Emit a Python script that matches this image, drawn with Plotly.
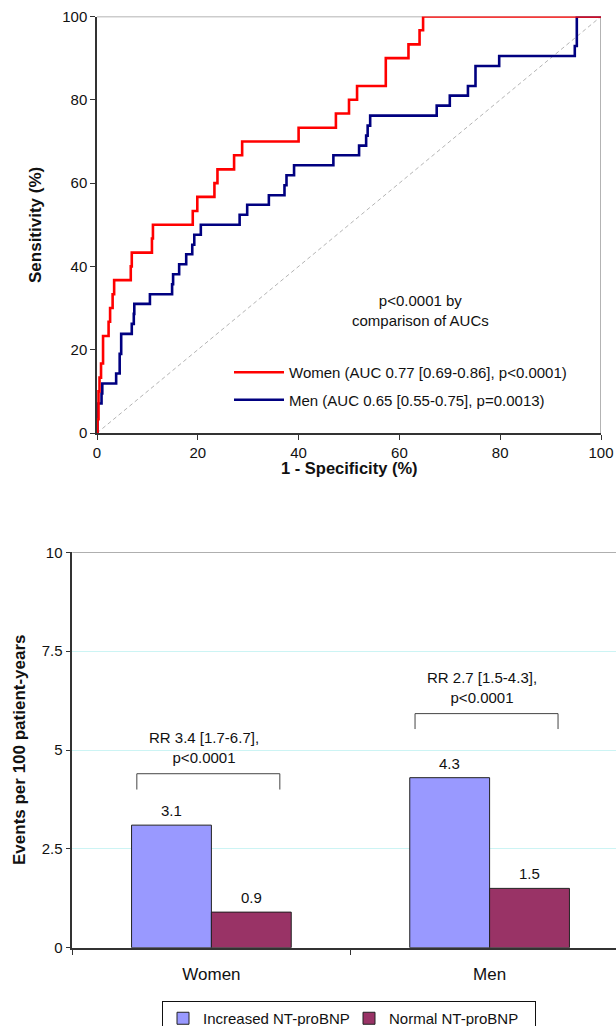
import plotly.graph_objects as go

# ROC staircase vertices: (1 - specificity, sensitivity) in %, after each rise
women_fpr = [0, 0.1, 0.3, 0.5, 0.8, 1.2, 2.3, 2.6, 3.1, 3.4, 6.7, 6.9, 10.9, 11.1,
             19.0, 19.9, 23.3, 23.9, 27.2, 28.8, 40.0, 47.4, 50.0, 51.6, 57.3,
             61.8, 64.0, 64.7, 100]
women_tpr = [0, 3.3, 10.0, 13.3, 16.7, 23.3, 26.7, 30.0, 33.3, 36.7, 40.0, 43.3, 46.7, 50.0,
             53.3, 56.7, 60.0, 63.3, 66.7, 70.0, 73.3, 76.7, 80.0, 83.3, 90.0,
             93.3, 96.7, 100, 100]

men_fpr = [0, 0.1, 0.9, 1.05, 3.8, 4.5, 4.8, 6.9, 7.3, 7.4, 10.5, 14.9, 15.1, 16.3,
           17.7, 18.9, 19.3, 20.6, 28.3, 29.8, 34.1, 37.2, 37.6, 39.1, 46.9, 52.0,
           53.4, 53.7, 54.2, 67.4, 70.0, 73.6, 75.1, 79.8, 94.8, 95.2, 100]
men_tpr = [0, 7.1, 9.5, 11.9, 14.3, 19.0, 23.8, 26.2, 28.6, 31.0, 33.3, 35.7, 38.1, 40.5,
           42.9, 45.2, 47.6, 50.0, 52.4, 54.8, 57.1, 59.5, 61.9, 64.3, 66.7, 69.0,
           71.4, 73.8, 76.2, 78.6, 81.0, 83.3, 88.1, 90.5, 92.9, 100, 100]

roc_ticks = [0, 20, 40, 60, 80, 100]

# Event rates per 100 patient-years
groups = ["Women", "Men"]
increased = [3.1, 4.3]
normal = [0.9, 1.5]
rr_labels = ["RR 3.4 [1.7-6.7],<br>p&lt;0.0001", "RR 2.7 [1.5-4.3],<br>p&lt;0.0001"]
rate_ticks = [0, 2.5, 5, 7.5, 10]
rate_ticktext = ["0", "2.5", "5", "7.5", "10"]

FONT = "Liberation Sans, Arial, sans-serif"
W, H = 616, 1026
BARGAP = 0.426


def px(p):
    """pixel column -> paper fraction"""
    return p / W


def py(p):
    """pixel row (from top) -> paper fraction"""
    return 1 - p / H


fig = go.Figure()

# chance diagonal
fig.add_trace(go.Scatter(x=[0, 100], y=[0, 100], mode="lines",
                         line=dict(color="#b4b4b4", width=1, dash="4px,3px"),
                         showlegend=False, hoverinfo="skip", xaxis="x", yaxis="y"))
fig.add_trace(go.Scatter(x=men_fpr, y=men_tpr, mode="lines", line_shape="hv",
                         line=dict(color="#000080", width=2.6),
                         name="Men (AUC 0.65 [0.55-0.75], p=0.0013)",
                         legendgroup="men", legendrank=2, cliponaxis=False,
                         xaxis="x", yaxis="y"))
fig.add_trace(go.Scatter(x=women_fpr, y=women_tpr, mode="lines", line_shape="hv",
                         line=dict(color="#ff0000", width=2.6),
                         name="Women (AUC 0.77 [0.69-0.86], p&lt;0.0001)",
                         legendgroup="women", legendrank=1, cliponaxis=False,
                         xaxis="x", yaxis="y"))

fig.add_trace(go.Bar(x=groups, y=increased, name="Increased NT-proBNP",
                     marker=dict(color="#9999ff", line=dict(color="#222", width=1)),
                     legend="legend2", xaxis="x2", yaxis="y2"))
fig.add_trace(go.Bar(x=groups, y=normal, name="Normal NT-proBNP",
                     marker=dict(color="#993366", line=dict(color="#222", width=1)),
                     legend="legend2", xaxis="x2", yaxis="y2"))

half = (1 - BARGAP) / 4
annotations = []
for i, (a, b) in enumerate(zip(increased, normal)):
    for off, v in ((-half, a), (half, b)):
        annotations.append(dict(x=i + off, y=v, xref="x2", yref="y2", text=f"{v:.1f}",
                                showarrow=False, xanchor="center", yanchor="bottom", yshift=4,
                                font=dict(size=15, color="#111", family=FONT)))

# significance brackets with RR labels
bracket_y = [(4.0, 4.4), (5.53, 5.92)]
rr_y = [5.06, 6.57]
shapes = []
for i, ((lo, hi), ty, txt) in enumerate(zip(bracket_y, rr_y, rr_labels)):
    x0, x1 = i - 0.268, i + 0.246
    shapes.append(dict(type="path", xref="x2", yref="y2",
                       path=f"M{x0},{lo} L{x0},{hi} L{x1},{hi} L{x1},{lo}",
                       line=dict(color="#444", width=1)))
    annotations.append(dict(x=i - 0.027, y=ty, xref="x2", yref="y2", text=txt,
                            showarrow=False, align="center", xanchor="center",
                            yanchor="middle",
                            font=dict(size=15, color="#111", family=FONT)))

# frame of the ROC panel (top and right edges in grey)
shapes += [
    dict(type="line", xref="x", yref="y", x0=0, x1=100, y0=100, y1=100,
         line=dict(color="#9a9a9a", width=1.5), layer="below"),
    dict(type="line", xref="x", yref="y", x0=100, x1=100, y0=0, y1=100,
         line=dict(color="#9a9a9a", width=1.5), layer="below"),
    dict(type="line", xref="x2 domain", yref="y2", x0=0, x1=1, y0=10, y1=10,
         line=dict(color="#7a7a7a", width=1)),
]

centered = dict(showarrow=False, xanchor="center", yanchor="middle")
annotations += [
    dict(x=64.1, y=29.3, xref="x", yref="y", text="p&lt;0.0001 by<br>comparison of AUCs",
         align="center", font=dict(size=15, color="#111", family=FONT), **centered),
    dict(x=px(349), y=py(468), xref="paper", yref="paper", text="<b>1 - Specificity (%)</b>",
         font=dict(size=16.5, color="#111", family=FONT), **centered),
    dict(x=px(35), y=py(225), xref="paper", yref="paper", text="<b>Sensitivity (%)</b>",
         textangle=-90, font=dict(size=17, color="#111", family=FONT), **centered),
    dict(x=px(19), y=py(750), xref="paper", yref="paper",
         text="<b>Events per 100 patient-years</b>",
         textangle=-90, font=dict(size=17, color="#111", family=FONT), **centered),
]

axis_common = dict(showline=True, linecolor="#333", linewidth=1.5, ticks="outside",
                   tickcolor="#333", tickwidth=1.2, ticklen=5, showgrid=False, zeroline=False,
                   automargin=False, tickfont=dict(size=15, color="#111", family=FONT))

cat_px = 278.2  # pixels per category on the bar panel
fig.update_layout(
    width=W, height=H,
    margin=dict(l=0, r=0, t=0, b=0, pad=0, autoexpand=False),
    paper_bgcolor="white", plot_bgcolor="white",
    font=dict(family=FONT, color="#111"),
    barmode="group", bargap=BARGAP, bargroupgap=0,
    xaxis=dict(domain=[px(97), px(601)], range=[0, 100], tickvals=roc_ticks,
               anchor="y", **axis_common),
    yaxis=dict(domain=[py(433), py(16.5)], range=[0, 100], tickvals=roc_ticks,
               anchor="x", **axis_common),
    xaxis2=dict(domain=[px(72.3), 1], range=[-0.5, -0.5 + (W - 72.3) / cat_px],
                type="category", tickson="boundaries", anchor="y2", ticklabelstandoff=10,
                **{**axis_common, "ticklen": 6,
                   "tickfont": dict(size=17, color="#111", family=FONT)}),
    yaxis2=dict(domain=[py(947.7), py(552.3)], range=[0, 10], tickvals=rate_ticks,
                ticktext=rate_ticktext, anchor="x2",
                **{**axis_common, "showgrid": True, "gridcolor": "#ccf4f4", "gridwidth": 1}),
    legend=dict(x=px(229), y=py(356), xanchor="left", yanchor="top",
                bgcolor="rgba(0,0,0,0)", borderwidth=0, tracegroupgap=5, itemwidth=50,
                font=dict(size=15, color="#111", family=FONT)),
    legend2=dict(orientation="h", x=px(349), y=py(1001), xanchor="center", yanchor="top",
                 bgcolor="white", bordercolor="#111", borderwidth=1, entrywidth=141,
                 font=dict(size=15, color="#111", family=FONT)),
    shapes=shapes,
    annotations=annotations,
)

fig.write_html("out.html")
